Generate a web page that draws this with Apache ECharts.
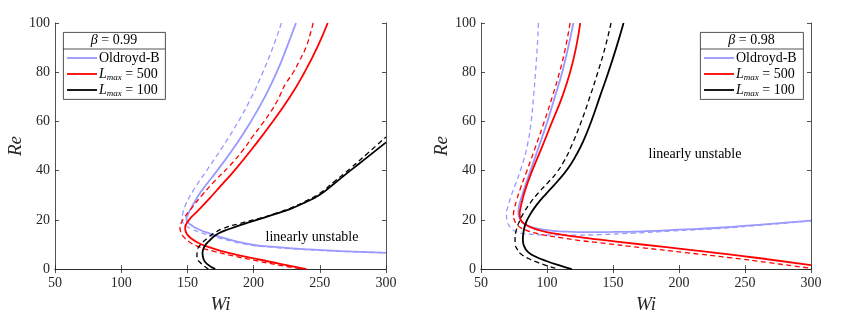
<!DOCTYPE html>
<html><head><meta charset="utf-8">
<script src="https://cdn.jsdelivr.net/npm/echarts@6/dist/echarts.min.js"></script>
<style>html,body{margin:0;padding:0;background:#fff}#c{width:851px;height:319px}</style>
</head><body><div id="c"></div>
<script>
// ---- data: [Wi, Re] along each neutral curve ----
const xTicks = [50, 100, 150, 200, 250, 300];
const yTicks = [0, 20, 40, 60, 80, 100];

// panel (a): beta = 0.99
const a_obSolid = [[232,100],[225,90],[217.5,80],[208.5,70],[198,60],[186,50],[172.5,40],[161,32],[154,26],[150.3,22],[149.3,20.5],[150,19.2],[152.5,18],[156,16.8],[160,15.8],[165,14.8],[172,13.5],[182,12],[198,10],[216,9],[242,8],[270,7.2],[300,6.6]];
const a_obDash  = [[221,100],[214.5,90],[207,80],[198.5,70],[188.5,60],[177,50],[164.5,40],[154.5,32],[148.5,26],[146.2,22],[145.8,20.5],[146.5,19],[149,17.6],[153,16.3],[158,15.2],[163,14.3],[170,13.2],[180,11.8],[195,10],[214,8.9],[240,7.9],[268,7.2],[300,6.7]];
const a_l500Solid = [[256,100],[248,90],[238.5,80],[227.5,70],[214.5,60],[200.5,50],[185.5,40],[175.5,34],[165.5,28],[157.5,23.5],[152,20.5],[149.3,18.5],[148.3,17],[148.6,15.5],[150.3,13.8],[153.5,12.2],[158,10.7],[164.6,9.2],[176,7.3],[190,5.5],[205,3.8],[221,2],[240,0]];
const a_l500Dash  = [[245,100],[242.5,95],[239.5,90],[235,85],[230,80],[225,76],[222.3,73.5],[220.3,71],[217.5,68],[213,64],[206.5,59],[199.5,54],[191.5,48],[182,42],[171,36],[161,30],[153.5,25],[147.8,21],[145,18.3],[144.4,16.6],[145,15],[147,13.2],[151,11.2],[158,9.2],[170,7.2],[185,5.3],[202,3.4],[218,1.7],[237,0]];
const a_l100Solid = [[171,0],[165,2],[162.2,4],[161.4,6.6],[162.7,9],[166.5,11.5],[173,14.4],[182.2,16.4],[193.5,18.5],[204.8,20.4],[216,22.3],[227.5,24.4],[238.5,27],[250,30.2],[261,34.8],[272.8,39.9],[286,45.5],[300,51.5]];
const a_l100Dash  = [[165.8,0],[160,2.5],[157.2,5],[157.5,7.5],[160,10],[165,12.5],[169.6,14.4],[177,16.5],[190,18.6],[205,20.7],[216,22.5],[227.5,24.7],[238.5,27.4],[250,30.8],[261,35.6],[272.8,40.8],[286,47],[300,53.7]];

// panel (b): beta = 0.98
const b_obSolid = [[120,100],[116,90],[111.5,80],[106,70],[100.3,60],[94,50],[87.5,40],[83,33],[80,28],[78.6,25],[78.3,22.8],[79.2,20.8],[81.2,19.2],[84.5,17.9],[89.5,16.9],[96,16.1],[105,15.5],[116,15.2],[130,15.05],[150,15.1],[175,15.4],[200,16],[230,16.8],[260,18],[300,19.7]];
const b_obDash  = [[93.5,100],[92.6,90],[91.3,80],[89.8,70],[88,60],[85,50],[81,42],[76.5,35],[73,30],[70.8,26],[69.3,22.5],[69.8,19.5],[71.5,17.5],[74,16],[77.5,15],[82,14.4],[90,14.1],[100,13.9],[120,13.8],[140,14],[165,14.6],[195,15.5],[230,16.5],[265,18],[300,19.6]];
const b_l500Solid = [[125.2,100],[122,90],[117.5,80],[111.5,70],[104,60],[96.5,50],[88.8,40],[84,33],[81.3,28],[80,25],[79.3,22.5],[79.8,20.5],[81.5,19],[84.5,17.8],[90,16.5],[96,15.5],[105,14.5],[117,13.5],[140,12],[172,10],[205,8],[238,6],[267,4],[300,1.6]];
const b_l500Dash  = [[117.5,100],[114,90],[109.5,80],[104,70],[98,60],[91.5,50],[84.8,40],[80,33],[77,28],[75.5,25],[74.6,22.3],[75.2,20],[76.8,18.5],[79.5,17],[84,15.8],[90,14.8],[98,13.8],[110,12.8],[125,11.6],[140,10.7],[172,8.7],[205,6.7],[238,4.7],[267,2.7],[300,0.3]];
const b_l100Solid = [[158,100],[152.5,90],[146.5,80],[140,70],[133.5,60],[127.5,52],[121.8,46],[116,41],[108.5,36],[100,31],[92,26],[87,22],[83.8,18.5],[82.2,15],[81.7,12],[82.5,9.5],[85.5,7],[91.5,5],[100,3.2],[109.5,1.5],[118.7,0]];
const b_l100Dash  = [[148.5,100],[144,90],[138.5,80],[132.5,70],[126,60],[118.5,50],[113,44],[107,39],[100.5,35],[93.5,31],[87.5,27],[82.5,23],[78.8,19],[76.6,15.5],[75.8,12.5],[76,10],[77.5,8],[80.5,6],[86,4.3],[93,2.7],[100.5,1.3],[108.6,0]];

const betaLabels = ['0.99', '0.98'];
const legendNames = ['Oldroyd-B', '500', '100'];

// ---- styling ----
const FONT = 'Liberation Serif';
const AX = '#262626';
const BLUE = '#9999ff', RED = '#ff0000', BLACK = '#000000';
const grids = [
  {left: 55, top: 23, width: 331, height: 254},
  {left: 481, top: 23, width: 330, height: 254}
];

function xAx(gi, pos, labels) {
  return {type: 'value', gridIndex: gi, position: pos, min: xTicks[0], max: xTicks[xTicks.length - 1], interval: xTicks[1] - xTicks[0],
    axisLine: {show: true, lineStyle: {color: AX, width: 0.8}},
    axisTick: {show: true, inside: true, length: 4, lineStyle: {color: AX, width: 0.8}},
    axisLabel: {show: labels, color: AX, fontFamily: FONT, fontSize: 14, margin: 7},
    splitLine: {show: false},
    name: labels ? 'Wi' : '', nameLocation: 'middle', nameGap: 24,
    nameTextStyle: {fontFamily: FONT, fontStyle: 'italic', fontSize: 19, color: AX}};
}
function yAx(gi, pos, labels) {
  return {type: 'value', gridIndex: gi, position: pos, min: yTicks[0], max: yTicks[yTicks.length - 1], interval: yTicks[1] - yTicks[0],
    axisLine: {show: true, lineStyle: {color: AX, width: 0.8}},
    axisTick: {show: true, inside: true, length: 4, lineStyle: {color: AX, width: 0.8}},
    axisLabel: {show: labels, color: AX, fontFamily: FONT, fontSize: 14, margin: 5},
    splitLine: {show: false},
    name: labels ? 'Re' : '', nameLocation: 'middle', nameGap: 30,
    nameTextStyle: {fontFamily: FONT, fontStyle: 'italic', fontSize: 19, color: AX}};
}

function ser(data, color, dashed, xi, yi, z) {
  return {type: 'line', data: data, xAxisIndex: xi, yAxisIndex: yi, smooth: 0.5,
    showSymbol: false, symbol: 'none', silent: true, z: z, clip: true,
    lineStyle: {color: color, width: dashed ? 1.3 : 1.8, type: dashed ? [5, 3.5] : 'solid'}};
}

const series = [
  ser(a_obDash, BLUE, true, 0, 0, 2), ser(a_obSolid, BLUE, false, 0, 0, 2),
  ser(a_l500Dash, RED, true, 0, 0, 3), ser(a_l500Solid, RED, false, 0, 0, 3),
  ser(a_l100Dash, BLACK, true, 0, 0, 4), ser(a_l100Solid, BLACK, false, 0, 0, 4),
  ser(b_obDash, BLUE, true, 2, 2, 2), ser(b_obSolid, BLUE, false, 2, 2, 2),
  ser(b_l500Dash, RED, true, 2, 2, 3), ser(b_l500Solid, RED, false, 2, 2, 3),
  ser(b_l100Dash, BLACK, true, 2, 2, 4), ser(b_l100Solid, BLACK, false, 2, 2, 4)
];

// legend boxes drawn as graphics
const rich = {
  i: {fontFamily: FONT, fontStyle: 'italic', fontSize: 14, color: '#000'},
  n: {fontFamily: FONT, fontSize: 14, color: '#000'},
  s: {fontFamily: FONT, fontStyle: 'italic', fontSize: 9, color: '#000', padding: [7, 0, 0, 0]}
};
function legendBox(x, w, beta) {
  const els = [];
  els.push({type: 'rect', left: x, top: 32, shape: {width: w, height: 67}, style: {fill: '#fff', stroke: '#262626', lineWidth: 0.8}, z: 10});
  els.push({type: 'line', shape: {x1: x, y1: 49, x2: x + w, y2: 49}, style: {stroke: '#262626', lineWidth: 0.8}, z: 11});
  els.push({type: 'text', x: x + w / 2, y: 40.5, z: 11, style: {text: '{i|β}{n| = ' + beta + '}', rich: rich, align: 'center', verticalAlign: 'middle'}});
  const cols = [BLUE, RED, BLACK];
  const ys = [58, 74, 90];
  for (let k = 0; k < 3; k++) {
    els.push({type: 'line', shape: {x1: x + 4, y1: ys[k], x2: x + 34, y2: ys[k]}, style: {stroke: cols[k], lineWidth: 1.8}, z: 11});
    const txt = k === 0 ? '{n|' + legendNames[0] + '}' : '{i|L}{s|max}{n| = ' + legendNames[k] + '}';
    els.push({type: 'text', x: x + 36, y: ys[k], z: 11, style: {text: txt, rich: rich, align: 'left', verticalAlign: 'middle'}});
  }
  return els;
}

const graphic = [].concat(
  legendBox(63, 102, betaLabels[0]),
  legendBox(700, 103, betaLabels[1]),
  [
    {type: 'text', x: 312, y: 237, z: 11, style: {text: 'linearly unstable', fontFamily: FONT, fontSize: 14, fill: '#000', align: 'center', verticalAlign: 'middle'}},
    {type: 'text', x: 695, y: 154, z: 11, style: {text: 'linearly unstable', fontFamily: FONT, fontSize: 14, fill: '#000', align: 'center', verticalAlign: 'middle'}}
  ]
);

const chart = echarts.init(document.getElementById('c'), null, {renderer: 'canvas'});
chart.setOption({
  animation: false,
  backgroundColor: '#fff',
  grid: grids,
  xAxis: [xAx(0, 'bottom', true), xAx(0, 'top', false), xAx(1, 'bottom', true), xAx(1, 'top', false)],
  yAxis: [yAx(0, 'left', true), yAx(0, 'right', false), yAx(1, 'left', true), yAx(1, 'right', false)],
  series: series,
  graphic: graphic
});
</script>
</body></html>
